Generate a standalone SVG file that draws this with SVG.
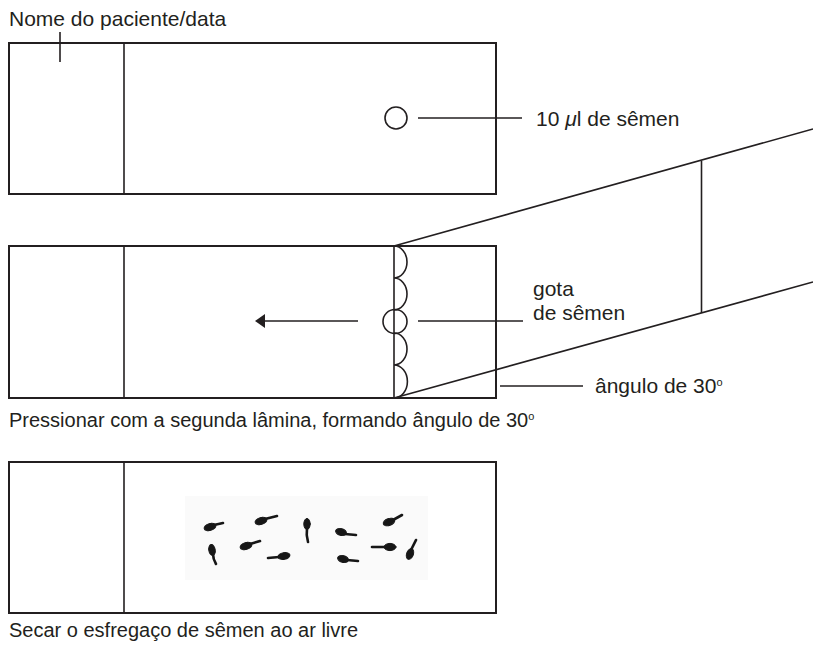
<svg xmlns="http://www.w3.org/2000/svg" width="813" height="650" viewBox="0 0 813 650">
  <style>
    .ln { stroke: #231f20; stroke-width: 1.6; fill: none; }
    .slide { stroke: #231f20; stroke-width: 2; fill: none; }
    .txt { font-family: "Liberation Sans", Arial, sans-serif; font-size: 21px; fill: #231f20; }
    .cap { font-size: 20px; }
    .sup { font-size: 11px; }
    .sp { fill: #141414; stroke: #141414; stroke-linecap: round; }
    .tail { stroke: #141414; stroke-width: 2.6; stroke-linecap: round; fill: none; }
  </style>
  <defs>
    <marker id="head" viewBox="0 0 10 14" refX="0" refY="7" markerWidth="10" markerHeight="14" markerUnits="userSpaceOnUse" orient="auto-start-reverse">
      <path d="M0,0 L10,7 L0,14 Z" fill="#231f20"/>
    </marker>
    <filter id="soft" x="-10%" y="-10%" width="120%" height="120%">
      <feGaussianBlur stdDeviation="0.7"/>
    </filter>
  </defs>

  <!-- slide 1: labelled slide with drop -->
  <g id="slide1">
    <rect class="slide" x="9" y="43" width="487" height="151"/>
    <line class="ln" x1="124" y1="43" x2="124" y2="194"/>
    <line class="ln" x1="60" y1="32" x2="60" y2="62"/>
    <text class="txt" x="9" y="26">Nome do paciente/data</text>
    <circle class="ln" cx="396" cy="118" r="11"/>
    <line class="ln" x1="418" y1="118" x2="522" y2="118"/>
    <text class="txt" x="536" y="126">10 <tspan font-style="italic">μ</tspan>l de sêmen</text>
  </g>

  <!-- second slide held at an angle -->
  <g id="spreader">
    <line class="ln" x1="394" y1="246" x2="813" y2="129"/>
    <line class="ln" x1="394" y1="398" x2="813" y2="282"/>
    <line class="ln" x1="701.5" y1="161" x2="701.5" y2="313"/>
  </g>

  <!-- slide 2: drop spread along the edge -->
  <g id="slide2">
    <rect class="slide" x="9" y="246" width="487" height="152"/>
    <line class="ln" x1="124" y1="246" x2="124" y2="398"/>
    <line class="ln" x1="394" y1="246" x2="394" y2="398"/>
    <path class="ln" d="M394,246 A13,16 0 0 1 394,278 A13,16 0 0 1 394,310 M394,333 A13,16 0 0 1 394,365 A13,16 0 0 1 394,398"/>
    <circle class="ln" cx="395" cy="321.5" r="12"/>
    <line class="ln" x1="418" y1="321" x2="523" y2="321"/>
    <text class="txt" x="533" y="296">gota</text>
    <text class="txt" x="533" y="320">de sêmen</text>
    <line class="ln" x1="500" y1="386" x2="583" y2="386"/>
    <text class="txt" x="595" y="393">ângulo de 30<tspan class="sup" dy="-7">o</tspan></text>
    <text class="txt cap" x="9" y="427">Pressionar com a segunda lâmina, formando ângulo de 30<tspan class="sup" dy="-7">o</tspan></text>
  </g>

  <!-- direction of the smear -->
  <g id="connectors">
    <line class="ln" x1="358" y1="321" x2="265" y2="321" marker-end="url(#head)"/>
  </g>

  <!-- slide 3: dried smear -->
  <g id="slide3">
    <rect class="slide" x="9" y="462" width="487" height="151"/>
    <line class="ln" x1="124" y1="462" x2="124" y2="613"/>
    <rect x="185" y="496" width="243" height="84" fill="#fafafa"/>
    <g id="sperm" filter="url(#soft)">
      <ellipse class="sp" cx="210" cy="527" rx="6" ry="3.4" transform="rotate(-15 210 527)"/>
      <path class="tail" d="M214,525 L223,523"/>
      <ellipse class="sp" cx="261" cy="521" rx="6" ry="3.4" transform="rotate(-15 261 521)"/>
      <path class="tail" d="M265,519 L277,516"/>
      <ellipse class="sp" cx="307" cy="524" rx="3.2" ry="5.5" />
      <path class="tail" d="M307,528 Q306,535 308,542"/>
      <ellipse class="sp" cx="341" cy="532" rx="5.5" ry="3.4" transform="rotate(15 341 532)"/>
      <path class="tail" d="M345,534 L356,535"/>
      <ellipse class="sp" cx="389" cy="522" rx="6" ry="3.4" transform="rotate(-20 389 522)"/>
      <path class="tail" d="M393,520 L402,515"/>
      <ellipse class="sp" cx="212" cy="550" rx="3.2" ry="5.5" transform="rotate(-10 212 550)"/>
      <path class="tail" d="M213,554 Q213,559 216,564"/>
      <ellipse class="sp" cx="246" cy="546" rx="6" ry="3.4" transform="rotate(-15 246 546)"/>
      <path class="tail" d="M250,544 L260,541"/>
      <ellipse class="sp" cx="284" cy="556" rx="6" ry="3.4" transform="rotate(-10 284 556)"/>
      <path class="tail" d="M279,557 L268,558"/>
      <ellipse class="sp" cx="343" cy="559" rx="5.5" ry="3.4" transform="rotate(15 343 559)"/>
      <path class="tail" d="M347,560 L358,561"/>
      <ellipse class="sp" cx="390" cy="547" rx="6" ry="3.6"/>
      <path class="tail" d="M385,547 L372,547"/>
      <ellipse class="sp" cx="410" cy="554" rx="3.4" ry="5.5" transform="rotate(20 410 554)"/>
      <path class="tail" d="M411,550 L416,540"/>
    </g>
    <text class="txt cap" x="9" y="637">Secar o esfregaço de sêmen ao ar livre</text>
  </g>
</svg>
